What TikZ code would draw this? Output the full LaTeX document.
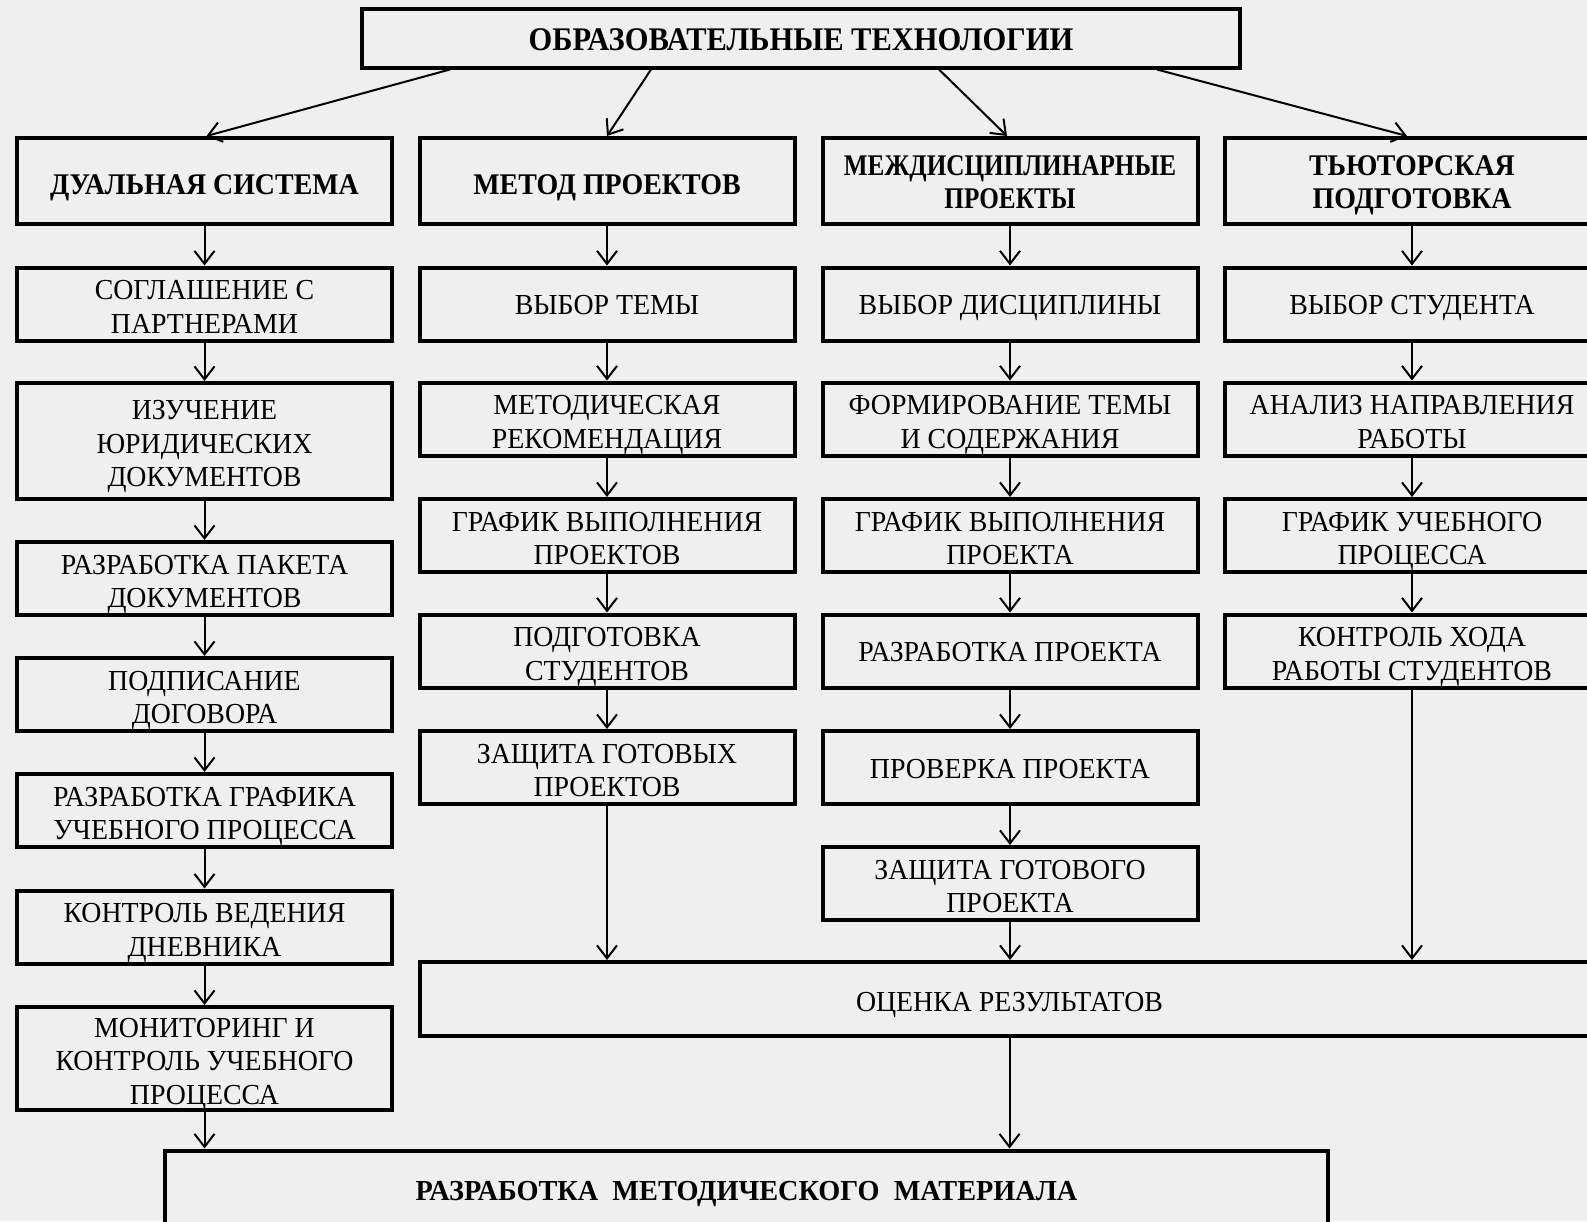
\documentclass[tikz,border=0pt]{standalone}
\usepackage{fontspec}
\setmainfont{Liberation Serif}
\newfontfamily\rgf[FakeStretch=0.96]{Liberation Serif}
\newfontfamily\hdf[FakeStretch=0.93]{Liberation Serif}
\newfontfamily\hdn[FakeStretch=0.84]{Liberation Serif}
\newfontfamily\tlf[FakeStretch=0.925]{Liberation Serif}
\newfontfamily\btf[FakeStretch=0.975]{Liberation Serif}
\usetikzlibrary{arrows.meta}
\definecolor{bg}{RGB}{239,239,239}
\def\strutht{24pt}
\newcommand\fst{\rule{0pt}{\strutht}}
\begin{document}
\begin{tikzpicture}[x=1pt,y=-1pt,
  sh/.code={\def\strutht{#1}},
  box/.style={draw=black, line width=4pt, fill=bg, align=center, inner sep=0pt, text depth=0pt,
    font=\rgf\fontsize{29}{33.5}\selectfont, minimum width=375pt, minimum height=73pt, sh=24.5pt},
  sbox/.style={box, sh=21.5pt},
  hbox/.style={box, font=\hdf\bfseries\fontsize{30}{33.5}\selectfont, sh=22pt},
  hsbox/.style={hbox, sh=27.5pt},
  arr/.style={line width=2pt, -{Straight Barb[length=13pt,width=20pt,line width=2pt]}}
]
\fill[bg] (0,0) rectangle (1587,1221);
\useasboundingbox (0,0) rectangle (1587,1221);
\clip (0,0) rectangle (1587,1221);

% top
\node[hbox, sh=24pt, font=\tlf\bfseries\fontsize{33}{36}\selectfont, minimum width=878pt, minimum height=59pt] (top) at (801,38) {\fst ОБРАЗОВАТЕЛЬНЫЕ ТЕХНОЛОГИИ};

% headers
\node[hsbox, minimum height=86pt] (h1) at (204.5,181) {\fst ДУАЛЬНАЯ СИСТЕМА};
\node[hsbox, minimum height=86pt] (h2) at (607,181) {\fst МЕТОД ПРОЕКТОВ};
\node[hbox, font=\hdn\bfseries\fontsize{30}{33.5}\selectfont, minimum height=86pt] (h3) at (1010,181) {\fst МЕЖДИСЦИПЛИНАРНЫЕ\\ПРОЕКТЫ};
\node[hbox, minimum height=86pt] (h4) at (1412,181) {\fst ТЬЮТОРСКАЯ\\ПОДГОТОВКА};

% column 1
\node[box] (a1) at (204.5,304) {\fst СОГЛАШЕНИЕ С\\ПАРТНЕРАМИ};
\node[box, minimum height=116pt] (a2) at (204.5,441) {\fst ИЗУЧЕНИЕ\\ЮРИДИЧЕСКИХ\\ДОКУМЕНТОВ};
\node[box] (a3) at (204.5,578.5) {\fst РАЗРАБОТКА ПАКЕТА\\ДОКУМЕНТОВ};
\node[box] (a4) at (204.5,694.5) {\fst ПОДПИСАНИЕ\\ДОГОВОРА};
\node[box] (a5) at (204.5,810.5) {\fst РАЗРАБОТКА ГРАФИКА\\УЧЕБНОГО ПРОЦЕССА};
\node[box] (a6) at (204.5,927) {\fst КОНТРОЛЬ ВЕДЕНИЯ\\ДНЕВНИКА};
\node[box, minimum height=103pt] (a7) at (204.5,1058.5) {\fst МОНИТОРИНГ И\\КОНТРОЛЬ УЧЕБНОГО\\ПРОЦЕССА};

% column 2
\node[sbox] (b1) at (607,304) {\fst ВЫБОР ТЕМЫ};
\node[box] (b2) at (607,419) {\fst МЕТОДИЧЕСКАЯ\\РЕКОМЕНДАЦИЯ};
\node[box] (b3) at (607,535.5) {\fst ГРАФИК ВЫПОЛНЕНИЯ\\ПРОЕКТОВ};
\node[box] (b4) at (607,651) {\fst ПОДГОТОВКА\\СТУДЕНТОВ};
\node[box] (b5) at (607,767.5) {\fst ЗАЩИТА ГОТОВЫХ\\ПРОЕКТОВ};

% column 3
\node[sbox] (c1) at (1010,304) {\fst ВЫБОР ДИСЦИПЛИНЫ};
\node[box] (c2) at (1010,419) {\fst ФОРМИРОВАНИЕ ТЕМЫ\\И СОДЕРЖАНИЯ};
\node[box] (c3) at (1010,535.5) {\fst ГРАФИК ВЫПОЛНЕНИЯ\\ПРОЕКТА};
\node[sbox] (c4) at (1010,651) {\fst РАЗРАБОТКА ПРОЕКТА};
\node[sbox] (c5) at (1010,767.5) {\fst ПРОВЕРКА ПРОЕКТА};
\node[box] (c6) at (1010,883.5) {\fst ЗАЩИТА ГОТОВОГО\\ПРОЕКТА};

% column 4
\node[sbox] (d1) at (1412,304) {\fst ВЫБОР СТУДЕНТА};
\node[box] (d2) at (1412,419) {\fst АНАЛИЗ НАПРАВЛЕНИЯ\\РАБОТЫ};
\node[box] (d3) at (1412,535.5) {\fst ГРАФИК УЧЕБНОГО\\ПРОЦЕССА};
\node[box] (d4) at (1412,651) {\fst КОНТРОЛЬ ХОДА\\РАБОТЫ СТУДЕНТОВ};

% bottom boxes
\node[box, sh=25pt, minimum width=1179pt, minimum height=74pt] (oc) at (1009.5,999) {\fst ОЦЕНКА РЕЗУЛЬТАТОВ};
\node[hbox, sh=21pt, font=\btf\bfseries\fontsize{29}{33.5}\selectfont, minimum width=1163pt, minimum height=79pt] (rm) at (746.5,1190) {\fst РАЗРАБОТКА\ \ МЕТОДИЧЕСКОГО\ \ МАТЕРИАЛА};

% arrows from top
\draw[arr] ([xshift=90pt]top.south west) -- ([xshift=2pt]h1.north);
\draw[arr] ([xshift=291pt]top.south west) -- (h2.north);
\draw[arr] ([xshift=579pt]top.south west) -- ([xshift=-3pt]h3.north);
\draw[arr] ([xshift=797pt]top.south west) -- ([xshift=-5pt]h4.north);

% column arrows
\foreach \u/\v in {h1/a1,a1/a2,a2/a3,a3/a4,a4/a5,a5/a6,a6/a7,
                   h2/b1,b1/b2,b2/b3,b3/b4,b4/b5,
                   h3/c1,c1/c2,c2/c3,c3/c4,c4/c5,c5/c6,
                   h4/d1,d1/d2,d2/d3,d3/d4}
  \draw[arr] (\u.south) -- (\v.north);

\draw[arr] (b5.south) -- (b5.south |- oc.north);
\draw[arr] (c6.south) -- (c6.south |- oc.north);
\draw[arr] (d4.south) -- (d4.south |- oc.north);
\draw[arr] (oc.south) -- (oc.south |- rm.north);
\draw[arr] (a7.south) -- (a7.south |- rm.north);
\end{tikzpicture}
\end{document}
